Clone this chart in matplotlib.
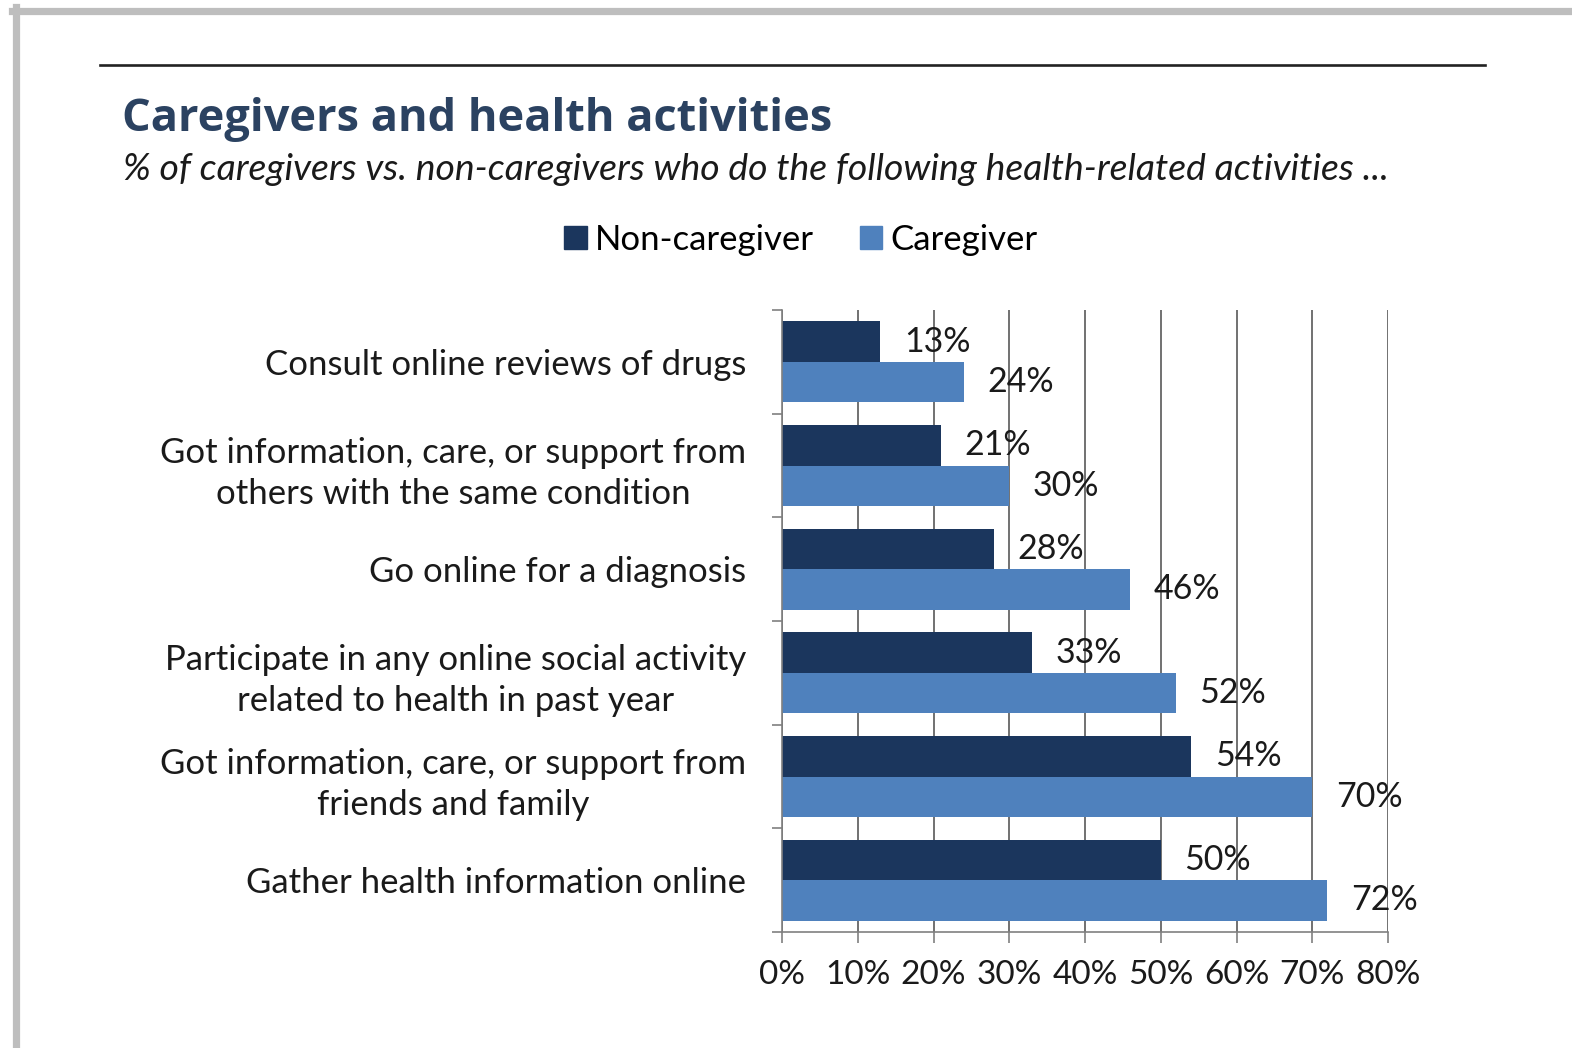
import matplotlib
matplotlib.use("Agg")
import matplotlib.pyplot as plt
from matplotlib.lines import Line2D
from matplotlib.patches import Patch

# data, top to bottom as in the chart
categories = [
    "Consult online reviews of drugs",
    "Got information, care, or support from\nothers with the same condition",
    "Go online for a diagnosis",
    "Participate in any online social activity\nrelated to health in past year",
    "Got information, care, or support from\nfriends and family",
    "Gather health information online",
]
non_caregiver = [13, 21, 28, 33, 54, 50]
caregiver = [24, 30, 46, 52, 70, 72]
x_ticks = [0, 10, 20, 30, 40, 50, 60, 70, 80]

DARK = "#1B365D"
LIGHT = "#4F81BD"
TXT = "#1a1a1a"
FONT = "Lato"

W, H = 1572, 1048
fig = plt.figure(figsize=(W / 100, H / 100), dpi=100)

def fx(px):
    return px / W

def fy(py):
    return 1 - py / H

# grey frame (left and top edge visible)
fig.add_artist(Line2D([fx(15.5), fx(15.5)], [fy(7), 0], color="#BEBEBE", lw=5.2))
fig.add_artist(Line2D([fx(12), 1], [fy(10.5), fy(10.5)], color="#BEBEBE", lw=5.2))
# black rule above title
fig.add_artist(Line2D([fx(100), fx(1485)], [fy(65), fy(65)], color="#222222", lw=1.9))

fig.text(fx(122), fy(120), "Caregivers and health activities", fontsize=32.5,
         fontweight="bold", color="#2B4261", family="Open Sans", va="center")
fig.text(fx(123), fy(170), "% of caregivers vs. non-caregivers who do the following health-related activities ...",
         fontsize=26.9, style="italic", color=TXT, family=FONT, va="center")

ax = fig.add_axes([fx(782), fy(932), fx(1388) - fx(782), fy(310) - fy(932)])

pos = list(range(len(categories)))
h = 0.39
ax.barh([p - 0.195 for p in pos], non_caregiver, height=h, color=DARK, zorder=2)
ax.barh([p + 0.195 for p in pos], caregiver, height=h, color=LIGHT, zorder=2)

for p, v in zip(pos, non_caregiver):
    ax.annotate(f"{v}%", (v, p - 0.195), xytext=(17, 0), textcoords="offset points",
                va="center", ha="left", fontsize=24.5, color=TXT, family=FONT, zorder=3)
for p, v in zip(pos, caregiver):
    ax.annotate(f"{v}%", (v, p + 0.195), xytext=(17, 0), textcoords="offset points",
                va="center", ha="left", fontsize=24.5, color=TXT, family=FONT, zorder=3)

ax.set_xlim(0, 80)
ax.set_ylim(len(categories) - 0.5, -0.5)

ax.set_xticks(x_ticks)
ax.set_xticklabels([f"{t}%" for t in x_ticks], fontsize=24, family=FONT, color=TXT)
ax.set_yticks(pos)
ax.set_yticklabels(categories, fontsize=25, family=FONT, color=TXT,
                   multialignment="center", linespacing=1.35)
ax.set_yticks([p - 0.5 for p in range(len(categories) + 1)], minor=True)
ax.tick_params(axis="y", which="major", length=0, pad=26)
ax.tick_params(axis="y", which="minor", length=7, width=1.2, color="#808080", direction="out")
ax.tick_params(axis="x", length=8, width=1.2, color="#808080", direction="out", pad=12)

ax.xaxis.grid(True, color="#4A4A4A", lw=1.1, zorder=0)
ax.set_axisbelow(True)
for s in ["top", "right"]:
    ax.spines[s].set_visible(False)
for s in ["left", "bottom"]:
    ax.spines[s].set_color("#808080")
    ax.spines[s].set_linewidth(1.2)

handles = [Patch(color=DARK, label="Non-caregiver"), Patch(color=LIGHT, label="Caregiver")]
fig.legend(handles=handles, loc="center", bbox_to_anchor=(fx(801), fy(240)), ncol=2,
           frameon=False, prop={"family": FONT, "size": 25}, handlelength=0.65,
           handleheight=0.65, handletextpad=0.25, columnspacing=1.3)

fig.savefig("out.png", dpi=100, facecolor="white")
